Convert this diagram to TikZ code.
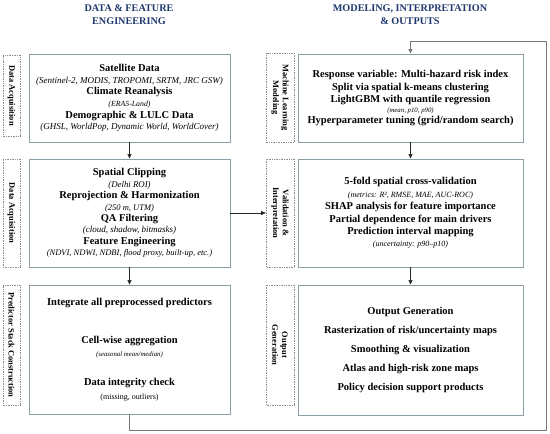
\documentclass[tikz,border=0pt]{standalone}
\usepackage{fontspec}
\setmainfont{Liberation Serif}
\usetikzlibrary{arrows.meta}
\definecolor{navy}{RGB}{31,56,110}
\definecolor{boxc}{RGB}{140,158,165}
\definecolor{lblc}{RGB}{140,140,140}
\definecolor{loopc}{RGB}{120,120,120}
\newcommand\hdr[1]{{\fontsize{10.5}{12}\selectfont\bfseries #1}}
\newcommand\subt[2]{{\fontsize{#1}{12}\selectfont\itshape #2}}
\begin{document}
\begin{tikzpicture}[x=1pt,y=-1pt,
  mainbox/.style={draw=boxc, line width=0.9pt, align=center, inner sep=0pt, fill=white},
  lbl/.style={draw=lblc, densely dotted, line width=0.7pt, rotate=-90, align=center, inner sep=0pt,
     font=\fontsize{8.4}{9.6}\selectfont\bfseries},
  ttl/.style={text=navy, font=\fontsize{10.2}{12.5}\selectfont\bfseries, align=center},
  arr/.style={-{Triangle[width=4pt,length=4.5pt]}, line width=0.6pt, draw=black!85},
  looparr/.style={-{Triangle[width=4pt,length=4.5pt]}, line width=0.8pt, draw=loopc}
]
\useasboundingbox[fill=white] (0,0) rectangle (550,434);

% titles
\node[ttl] (t1) at (129,14.5) {DATA \& FEATURE\\ENGINEERING};
\node[ttl] (t2) at (410,14.5) {MODELING, INTERPRETATION\\\& OUTPUTS};

% left labels
\node[lbl, minimum width=81pt, minimum height=17pt] (la1) at (11.5,95.5) {Data Acquisition};
\node[lbl, minimum width=108pt, minimum height=17pt] (la2) at (11.5,213) {Data Acquisition};
\node[lbl, minimum width=120pt, minimum height=17pt] (la3) at (11.5,345) {Predictor Stack Construction};

% right labels
\node[lbl, minimum width=89pt, minimum height=28pt] (ra1) at (280,97.5) {Machine Learning\\Modeling};
\node[lbl, minimum width=108pt, minimum height=28pt] (ra2) at (280,213) {Validation \&\\Interpretation};
\node[lbl, minimum width=120pt, minimum height=28pt] (ra3) at (280,345) {Output\\Generation};

% left boxes
\node[mainbox, minimum width=201pt, minimum height=88pt, font=\fontsize{10.5}{11.6}\selectfont] (l1) at (129.5,98) {%
\hdr{Satellite Data}\\
\subt{9}{(Sentinel-2, MODIS, TROPOMI, SRTM, JRC GSW)}\\
\hdr{Climate Reanalysis}\\
\subt{7.8}{(ERA5-Land)}\\
\hdr{Demographic \& LULC Data}\\
\subt{9}{(GHSL, WorldPop, Dynamic World, WorldCover)}};

\node[mainbox, minimum width=201pt, minimum height=108pt, font=\fontsize{10.5}{11.4}\selectfont] (l2) at (129.5,213) {%
\hdr{Spatial Clipping}\\
\subt{8.8}{(Delhi ROI)}\\
\hdr{Reprojection \& Harmonization}\\
\subt{8.5}{(250 m, UTM)}\\
\hdr{QA Filtering}\\
\subt{9}{(cloud, shadow, bitmasks)}\\
\hdr{Feature Engineering}\\
\subt{8.5}{(NDVI, NDWI, NDBI, flood proxy, built-up, etc.)}};

\node[mainbox, minimum width=201pt, minimum height=129pt, font=\fontsize{10.5}{13.5}\selectfont] (l3) at (129.5,349.5) {%
\hdr{Integrate all preprocessed predictors}\\[24pt]
\hdr{Cell-wise aggregation}\\
\subt{6.8}{(seasonal mean/median)}\\[15.5pt]
\hdr{Data integrity check}\\
{\fontsize{8}{12}\selectfont (missing, outliers)}};

% right boxes
\node[mainbox, minimum width=225pt, minimum height=88pt, font=\fontsize{10.5}{12.5}\selectfont] (r1) at (410.5,98) {%
\hdr{Response variable: Multi-hazard risk index}\\
\hdr{Split via spatial k-means clustering}\\
\hdr{LightGBM with quantile regression}\\[-3pt]
\subt{6.8}{(mean, p10, p90)}\\[-1.5pt]
\hdr{Hyperparameter tuning (grid/random search)}};

\node[mainbox, minimum width=225pt, minimum height=108pt, font=\fontsize{10.5}{12.4}\selectfont] (r2) at (410.5,213) {%
\hdr{5-fold spatial cross-validation}\\
\subt{8}{(metrics: R², RMSE, MAE, AUC-ROC)}\\
\hdr{SHAP analysis for feature importance}\\
\hdr{Partial dependence for main drivers}\\
\hdr{Prediction interval mapping}\\
\subt{8}{(uncertainty: p90–p10)}};

\node[mainbox, minimum width=225pt, minimum height=130pt, font=\fontsize{10.5}{19}\selectfont] (r3) at (410.5,350) {%
\hdr{Output Generation}\\
\hdr{Rasterization of risk/uncertainty maps}\\
\hdr{Smoothing \& visualization}\\
\hdr{Atlas and high-risk zone maps}\\
\hdr{Policy decision support products}};

% connectors
\draw[arr] (l1) -- (l2);
\draw[arr] (l2) -- (l3);
\draw[arr] (r1) -- (r2);
\draw[arr] (r2) -- (r3);
\draw[arr] (l2.east) -- (ra2.south);

\coordinate (c1) at (546.5,430);
\coordinate (c2) at (546.5,41);
\draw[looparr] (l3.south) |- (c1) -- (c2) -| (r1.north);
\end{tikzpicture}
\end{document}
